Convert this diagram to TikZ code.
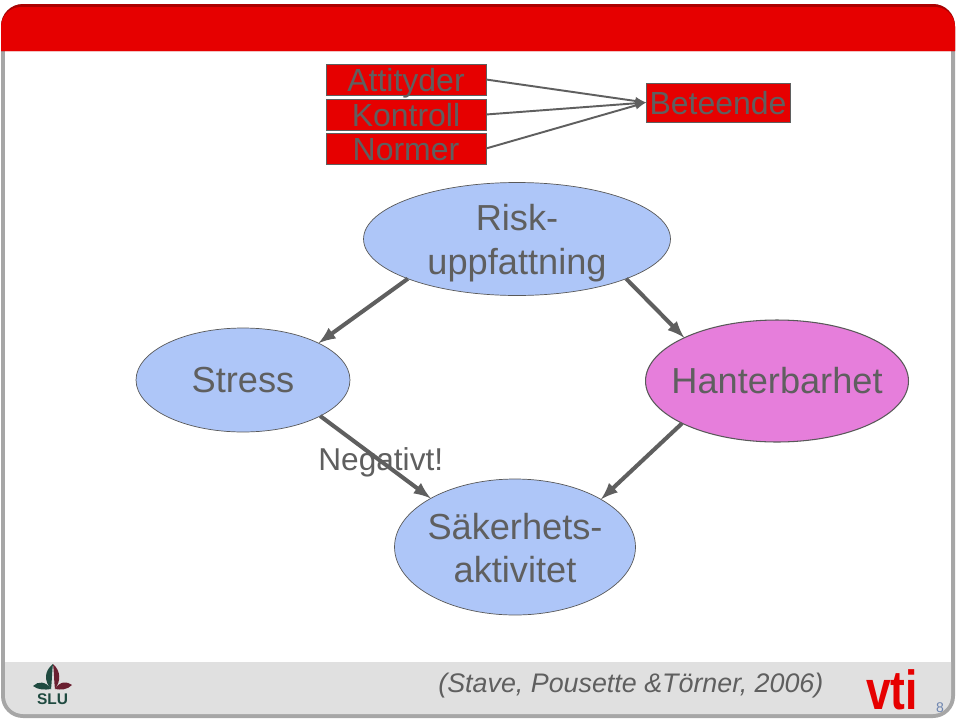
\documentclass[tikz,border=0pt]{standalone}
\usepackage{fontspec}
\setmainfont{Liberation Sans}
\usetikzlibrary{shapes.geometric}
\definecolor{headred}{HTML}{E60000}
\definecolor{textgray}{HTML}{5F5F5F}
\definecolor{blobblue}{HTML}{AEC6F8}
\definecolor{blobpink}{HTML}{E67EDB}
\definecolor{slugreen}{HTML}{1F4A40}
\definecolor{slured}{HTML}{6A1F30}
\definecolor{pagegray}{HTML}{6F86B0}
\tikzset{
  blobtext/.style={text=textgray,font=\fontsize{20.6}{25}\selectfont,align=center},
  blob/.style={ellipse,draw=black!65,fill=blobblue,inner sep=0pt,outer sep=0pt},
  redbox/.style={rectangle,draw=textgray,line width=0.3pt,fill=headred,text=textgray,inner sep=0pt,outer sep=0pt,
    font=\fontsize{18.2}{20}\selectfont,text height=14pt,text depth=0pt},
  thinline/.style={-latex,draw=textgray,line width=1.1pt},
  thickline/.style={-latex,draw=textgray,line width=2.3pt}
}
\begin{document}
\begin{tikzpicture}[x=0.02cm,y=-0.02cm]
\useasboundingbox (0,0) rectangle (959,720);
% slide frame
\fill[black!35,rounded corners=0.44cm] (1,4) rectangle (955,718);
\fill[white] (5,51) rectangle (951,662);
\fill[black!12] (5,662) -- (951,662) {[rounded corners=0.36cm] -- (951,714) -- (5,714)} -- cycle;
\fill[headred!75!black] (1,51) {[rounded corners=0.44cm] -- (1,4) -- (955,4)} -- (955,51) -- cycle;
\fill[headred] (1,51) {[rounded corners=0.4cm] -- (1,7) -- (955,7)} -- (955,51) -- cycle;
% top row
\node[redbox,minimum width=3.2cm,minimum height=0.62cm] (attityder) at (406,79.5) {Attityder};
\node[redbox,minimum width=3.2cm,minimum height=0.62cm] (kontroll) at (406,114.5) {Kontroll};
\node[redbox,minimum width=3.2cm,minimum height=0.62cm] (normer) at (406,148.5) {Normer};
\node[redbox,minimum width=2.88cm,minimum height=0.78cm] (beteende) at (718,102.5) {Beteende};
\draw[thinline] (attityder.east) -- (beteende.west);
\draw[thinline] (kontroll.east) -- (beteende.west);
\draw[thinline] (normer.east) -- (beteende.west);
% ellipses
\node[blob,minimum width=6.14cm,minimum height=2.26cm,label={[blobtext,yshift=-2.4pt]center:Risk-\\uppfattning}] (risk) at (517,239) {};
\node[blob,minimum width=4.28cm,minimum height=2.08cm,label={[blobtext]center:Stress}] (stress) at (243,380) {};
\node[blob,fill=blobpink,line width=0.6pt,minimum width=5.26cm,minimum height=2.44cm,label={[blobtext]center:Hanterbarhet}] (hanter) at (777,381) {};
\node[blob,minimum width=4.82cm,minimum height=2.72cm,label={[blobtext,yshift=-0.6pt]center:Säkerhets-\\aktivitet}] (sakerhet) at (515,547) {};
\node[text=textgray,font=\fontsize{18}{20}\selectfont,anchor=west,inner sep=0pt] (negativt) at (318,462) {Negativt!};
\draw[thickline] (risk.200) -- (stress.26);
\draw[thickline] (risk.340) -- (hanter.155);
\draw[thickline] (stress.335) -- (sakerhet.150);
\draw[thickline] (hanter.204) -- (sakerhet.29);
% footer
\node[text=textgray,font=\fontsize{15.28}{18}\itshape,anchor=west,inner sep=0pt] (kalla) at (438,686) {(Stave, Pousette \&Törner, 2006)};
\node[text=headred,font=\fontsize{29}{30}\bfseries,xscale=0.87,yscale=1.08,inner sep=0pt] (vti) at (892,690) {vti};
\node[text=pagegray,font=\fontsize{8}{9}\selectfont,inner sep=0pt] (sidnr) at (940,708) {8};
% slu logo
\fill[slugreen] (53,664) .. controls (44,671) and (44,681) .. (51,689) .. controls (52,681) and (52,671) .. (53,664) -- cycle;
\fill[slured] (53,664) .. controls (61,671) and (61,681) .. (55,689) .. controls (54,681) and (54,671) .. (53,664) -- cycle;
\fill[slugreen] (33,686) .. controls (38,681) and (46,681) .. (51,689) .. controls (45,690) and (38,690) .. (33,686) -- cycle;
\fill[slured] (72,685) .. controls (67,681) and (60,681) .. (55,689) .. controls (61,690) and (67,690) .. (72,685) -- cycle;
\node[text=slugreen,font=\fontsize{8.8}{10}\bfseries,inner sep=0pt] (slu) at (52.5,699) {SLU};
\end{tikzpicture}
\end{document}
